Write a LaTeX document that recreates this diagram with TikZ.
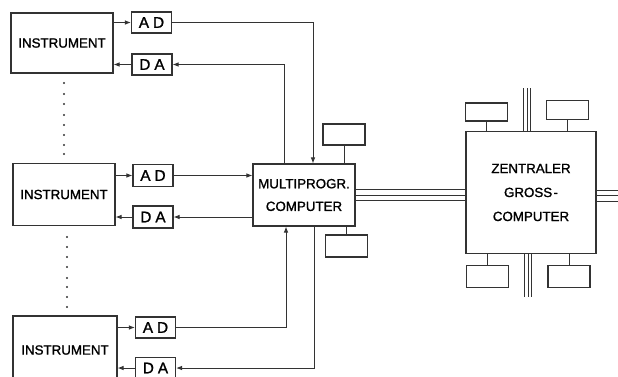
\documentclass[tikz,border=0pt]{standalone}
\usepackage{fontspec}
\setmainfont{Liberation Sans}
\newfontfamily\labfont{Liberation Sans}[FakeBold=1.3]
\usetikzlibrary{calc,arrows.meta}
\definecolor{ink}{HTML}{333333}
\begin{document}
\begin{tikzpicture}[x=0.75pt,y=-0.75pt,
  every node/.style={text=black},
  blk/.style={draw=ink,line width=0.85pt,inner sep=0pt,font=\labfont\fontsize{10}{12}\selectfont,align=center},
  cbox/.style={draw=ink,line width=0.85pt,inner sep=0pt,minimum width=30pt,minimum height=15.75pt,font=\labfont\fontsize{11.5}{13}\selectfont},
  pbox/.style={draw=ink,line width=0.8pt,inner sep=0pt},
  ln/.style={draw=ink,line width=0.75pt},
  arr/.style={ln,-{Latex[length=4.5pt,width=3.5pt]}},
  dot/.style={fill=ink,draw=none,circle,inner sep=0pt,minimum size=1.8pt}]
\useasboundingbox (0,0) rectangle (618,376);
\clip (0,0) rectangle (618,376);
% instruments
\node[blk,minimum width=76.5pt,minimum height=45pt] (i1) at (62,43) {INSTRUMENT};
\node[blk,minimum width=76.5pt,minimum height=47pt] (i2) at (64,194.5) {INSTRUMENT};
\node[blk,minimum width=78pt,minimum height=51pt] (i3) at (65,350) {INSTRUMENT};
% converters
\node[cbox] (ad1) at (151.5,22.5) {A\kern3ptD};
\node[cbox] (da1) at (152,64.5) {D\kern3ptA};
\node[cbox,minimum height=17pt] (ad2) at (153,175.5) {A\kern3ptD};
\node[cbox,minimum height=16.5pt] (da2) at (153,217) {D\kern3ptA};
\node[cbox] (ad3) at (155.5,327.5) {A\kern3ptD};
\node[cbox] (da3) at (155.5,368) {D\kern3ptA};
% multiprog computer
\node[blk,minimum width=76.5pt,minimum height=46.5pt,align=center] (mp) at (304,195)
  {MULTIPROGR.\\[5pt]COMPUTER};
\node[pbox,minimum width=31.5pt,minimum height=15.75pt] (mt) at (344,134.5) {};
\node[pbox,minimum width=31pt,minimum height=16.5pt] (mb) at (346.5,246) {};
% central computer
\node[blk,minimum width=97.5pt,minimum height=91pt,align=center] (zc) at (531,192.5)
  {ZENTRALER\\[6pt]GROSS\kern1pt-\\[6pt]COMPUTER};
\node[pbox,minimum width=32pt,minimum height=13.5pt] (ztl) at (486.5,112) {};
\node[pbox,minimum width=31pt,minimum height=14.5pt] (ztr) at (567.5,110) {};
\node[pbox,minimum width=31pt,minimum height=17pt] (zbl) at (487.5,276.5) {};
\node[pbox,minimum width=31.5pt,minimum height=17pt] (zbr) at (569,276.5) {};
\coordinate (topend) at (527,88);
\coordinate (botend) at (528,297);
\coordinate (rightend) at (618,195.5);
% instrument <-> converters
\draw[arr] (i1.east |- ad1.west) -- (ad1.west);
\draw[arr] (da1.west) -- (da1.west -| i1.east);
\draw[arr] (i2.east |- ad2.west) -- (ad2.west);
\draw[arr] (da2.west) -- (da2.west -| i2.east);
\draw[arr] (i3.east |- ad3.west) -- (ad3.west);
\draw[arr] (da3.west) -- (da3.west -| i3.east);
% converters <-> multiprog
\draw[arr] (ad1.east) -| ($(mp.north)+(9,0)$);
\draw[arr] ($(mp.north)+(-20,0)$) |- (da1.east);
\draw[arr] (ad2.east) -- (ad2.east -| mp.west);
\draw[arr] (da2.east -| mp.west) -- (da2.east);
\draw[arr] (ad3.east) -| ($(mp.south)+(-18,0)$);
\draw[arr] ($(mp.south)+(10,0)$) |- (da3.east);
% peripheral connectors
\draw[ln] (mt.south) -- (mt.south |- mp.north);
\draw[ln] (mb.north) -- (mb.north |- mp.south);
\draw[ln] (ztl.south) -- (ztl.south |- zc.north);
\draw[ln] (ztr.south) -- (ztr.south |- zc.north);
\draw[ln] (zbl.north) -- (zbl.north |- zc.south);
\draw[ln] (zbr.north) -- (zbr.north |- zc.south);
% triple buses
\foreach \d in {-5.5,0,5.5}{
  \draw[ln] ($(mp.east)+(0,\d)$) -- ($(mp.east -| zc.west)+(0,\d)$);
  \draw[ln] ($(zc.east |- rightend)+(0,\d)$) -- ($(rightend)+(0,\d)$);
}
\foreach \d in {-3.5,0,3.5}{
  \draw[ln] ($(topend)+(\d,0)$) -- ($(topend |- zc.north)+(\d,0)$);
  \draw[ln] ($(botend |- zc.south)+(\d,0)$) -- ($(botend)+(\d,0)$);
}
% dots
\foreach \y in {83,94,104,115,125,135,145,154}{\node[dot] at (64,\y) {};}
\foreach \y in {237,247,257,267,278,287,297,307}{\node[dot] at (67,\y) {};}
\end{tikzpicture}
\end{document}
